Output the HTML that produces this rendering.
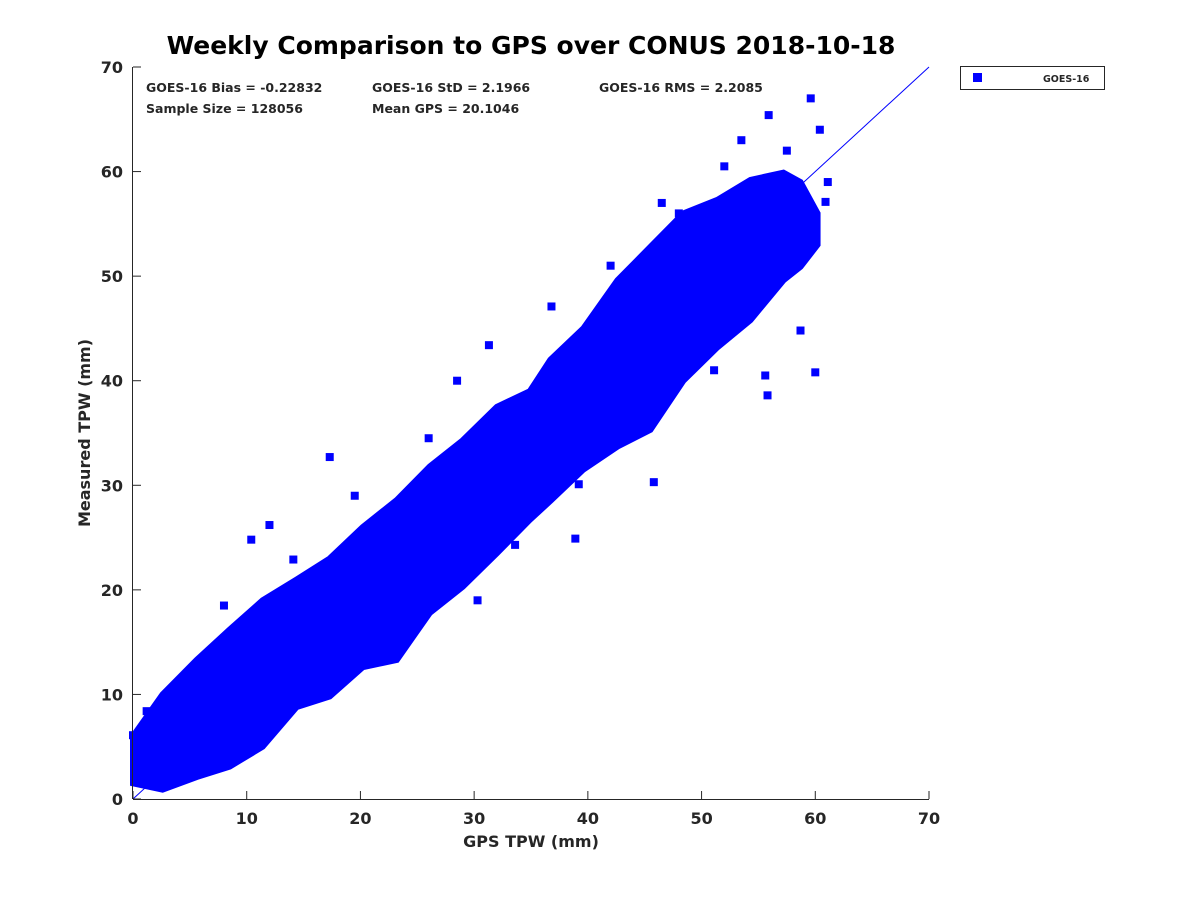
<!DOCTYPE html>
<html><head><meta charset="utf-8"><style>
html,body{margin:0;padding:0;background:#fff;}
svg text{font-family:"DejaVu Sans","Liberation Sans",sans-serif;font-weight:bold;fill:#262626;}
</style></head><body>
<svg id="chart" width="1200" height="900" xmlns="http://www.w3.org/2000/svg">
<text x="531" y="54" font-size="25" text-anchor="middle" style="fill:#000">Weekly Comparison to GPS over CONUS 2018-10-18</text>
<g id="band"></g>
<g id="axes"></g>
<text x="146" y="92" font-size="12.5">GOES-16 Bias = -0.22832</text>
<text x="372" y="92" font-size="12.5">GOES-16 StD = 2.1966</text>
<text x="599" y="92" font-size="12.5">GOES-16 RMS = 2.2085</text>
<text x="146" y="113" font-size="12.5">Sample Size = 128056</text>
<text x="372" y="113" font-size="12.5">Mean GPS = 20.1046</text>
<text x="531" y="847" font-size="16" text-anchor="middle">GPS TPW (mm)</text>
<text transform="translate(90,433) rotate(-90)" font-size="16" text-anchor="middle">Measured TPW (mm)</text>
<g>
<rect x="960.5" y="66.5" width="144" height="23" fill="#fff" stroke="#262626" stroke-width="1"/>
<rect x="973" y="73" width="9" height="9" fill="#0000ff"/>
<text x="1043" y="82" font-size="9.5">GOES-16</text>
</g>
</svg>
<script>
const bandX=[0,2.6,5.6,8.5,11.4,14.4,17.3,20.2,23.2,26.1,29,32,34.9,36.7,39.6,42.6,45.5,48.4,51.4,54.3,57.2,58.7,60.2];
const bandLow=[1.5,0.9,2.1,3.1,5,8.8,9.8,12.6,13.3,17.8,20.3,23.5,26.7,28.5,31.5,33.7,35.3,40,43.2,45.8,49.6,50.9,53];
const bandHigh=[6,10,13.3,16.2,19,21,23,26,28.6,31.8,34.3,37.5,39,42,45,49.6,52.8,56,57.3,59.2,59.9,59,56];
const outX=[59.6,60.4,55.9,33.6,38.9,55.6,60,55.8,17.3,12,10.4,0,1.2,31.3,36.8,44.8,51.1,58.7,61.1,60.9,31.1,39.2,45.8,23.9,30.3,14.1,57.5,53.5,52,48,46.5,42,28.5,26,19.5,8,6.5,2.5];
const outY=[67,64,65.4,24.3,24.9,40.5,40.8,38.6,32.7,26.2,24.8,6.1,8.4,43.4,47.1,37.2,41,44.8,59,57.1,32.9,30.1,30.3,15.2,19,22.9,62,63,60.5,56,57,51,40,34.5,29,18.5,3,2];
const xTicks=[0,10,20,30,40,50,60,70];
const yTicks=[0,10,20,30,40,50,60,70];
const NS="http://www.w3.org/2000/svg";
const X=v=>133+v*(796/70), Y=v=>799-v*(732/70);
function mk(t,a,p){const e=document.createElementNS(NS,t);for(const k in a)e.setAttribute(k,a[k]);p.appendChild(e);return e;}
const band=document.getElementById('band'), axes=document.getElementById('axes');
let d='M'+X(bandX[0])+','+Y(bandHigh[0]);
for(let i=1;i<bandX.length;i++)d+=' L'+X(bandX[i])+','+Y(bandHigh[i]);
for(let i=bandX.length-1;i>=0;i--)d+=' L'+X(bandX[i])+','+Y(bandLow[i]);
const poly=mk('path',{d:d+'Z',fill:'#0000ff',stroke:'#0000ff','stroke-width':6,'stroke-linejoin':'miter'},band);


for(let i=0;i<outX.length;i++){
 const r=mk('rect',{x:X(outX[i])-4,y:Y(outY[i])-4,width:8,height:8,fill:'#0000ff'},band);
 
 
}
const ln=mk('line',{x1:X(0),y1:Y(0),x2:X(70),y2:Y(70),stroke:'#0000ff','stroke-width':1},band);


mk('line',{x1:133,y1:799.5,x2:929,y2:799.5,stroke:'#262626'},axes);
mk('line',{x1:132.5,y1:67,x2:132.5,y2:799,stroke:'#262626'},axes);
xTicks.forEach(v=>{
 mk('line',{x1:X(v),y1:799,x2:X(v),y2:791,stroke:'#262626'},axes);
 const t=mk('text',{x:X(v),y:824,'font-size':16,'text-anchor':'middle'},axes);t.textContent=v;
 
 
});
yTicks.forEach(v=>{
 mk('line',{x1:133,y1:Y(v),x2:141,y2:Y(v),stroke:'#262626'},axes);
 const t=mk('text',{x:123,y:Y(v)+6,'font-size':16,'text-anchor':'end'},axes);t.textContent=v;
 
 
});
</script>
</body></html>
